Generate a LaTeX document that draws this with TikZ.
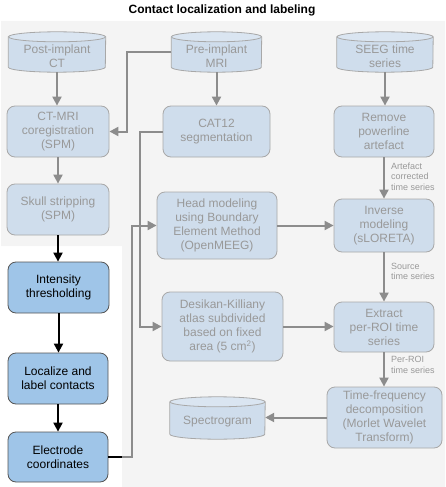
\documentclass[tikz,border=0pt]{standalone}
\usepackage{fontspec}
\setmainfont{Liberation Sans}
\usetikzlibrary{arrows.meta,calc}
\definecolor{bggray}{HTML}{F4F4F4}
\definecolor{lfill}{HTML}{CFDDEC}
\definecolor{ltop}{HTML}{DAE5F1}
\definecolor{lborder}{HTML}{A8A8A8}
\definecolor{ltext}{HTML}{999999}
\definecolor{dfill}{HTML}{9FC5E8}
\definecolor{dborder}{HTML}{555555}
\definecolor{agray}{HTML}{8C8C8C}
\newcommand\drawcyl[2]{%
  \fill[lfill] ([yshift=-5pt]#1.north west) -- ([yshift=5pt]#1.south west)
     arc[start angle=180,end angle=360,x radius=#2pt,y radius=5pt]
     -- ([yshift=-5pt]#1.north east) -- cycle;
  \draw[lborder,line width=0.8pt] ([yshift=-5pt]#1.north west) -- ([yshift=5pt]#1.south west)
     arc[start angle=180,end angle=360,x radius=#2pt,y radius=5pt]
     -- ([yshift=-5pt]#1.north east);
  \filldraw[fill=ltop,draw=lborder,line width=0.8pt] ([yshift=-5pt]#1.north) ellipse[x radius=#2pt,y radius=5pt];
}
\begin{document}
\begin{tikzpicture}[x=1pt,y=-1pt,
  lbox/.style={draw=lborder, fill=lfill, rounded corners=8pt, text=ltext, align=center,
    font=\fontsize{12}{14}\selectfont, inner sep=0pt, line width=0.8pt},
  dbox/.style={draw=dborder, fill=dfill, rounded corners=8pt, text=black, align=center,
    font=\fontsize{12}{14}\selectfont, inner sep=0pt, line width=0.8pt},
  cylbox/.style={draw=none, inner sep=0pt},
  cyltext/.style={text=ltext, align=center, font=\fontsize{12}{14}\selectfont, inner sep=0pt},
  garrow/.style={draw=agray, line width=2pt, -{Triangle[length=9pt,width=9pt]}},
  barrow/.style={draw=black, line width=2pt, -{Triangle[length=9pt,width=9pt]}},
  elabel/.style={font=\fontsize{9}{10.5}\selectfont, text=ltext, align=left, anchor=west, inner sep=0pt}]
\useasboundingbox (0,0) rectangle (445,487);
\fill[bggray] (1,21) -- (445,21) -- (445,487) -- (122,487) -- (122,246) -- (1,246) -- cycle;
\node[font=\bfseries\fontsize{12}{14}\selectfont] (title) at (222,10) {Contact localization and labeling};

% cylinders
\node[cylbox, minimum width=97pt, minimum height=40pt] (ct) at (57,52) {};
\drawcyl{ct}{48.5}
\node[cyltext] (cttext) at ([yshift=-4.5pt]ct.center) {Post-implant\\CT};

\node[cylbox, minimum width=90pt, minimum height=40pt] (mri) at (216.5,52) {};
\drawcyl{mri}{45}
\node[cyltext] (mritext) at ([yshift=-4.5pt]mri.center) {Pre-implant\\MRI};

\node[cylbox, minimum width=96pt, minimum height=40pt] (seeg) at (385,52) {};
\drawcyl{seeg}{48}
\node[cyltext] (seegtext) at ([yshift=-4.5pt]seeg.center) {SEEG time\\series};

\node[cylbox, minimum width=95pt, minimum height=42pt] (spec) at (217.5,418) {};
\drawcyl{spec}{47.5}
\node[cyltext] (spectext) at ([yshift=-3.5pt]spec.center) {Spectrogram};

% boxes
\node[lbox, minimum width=102pt, minimum height=51pt] (ctmri) at (58,131.5) {CT-MRI\\coregistration\\(SPM)};
\node[lbox, minimum width=107pt, minimum height=51pt] (cat) at (216.5,131.5) {CAT12\\segmentation};
\node[lbox, minimum width=100pt, minimum height=51pt] (remove) at (384,131.5) {Remove\\powerline\\artefact};
\node[lbox, minimum width=102pt, minimum height=51pt] (skull) at (58,209.5) {Skull stripping\\(SPM)};
\node[lbox, minimum width=120pt, minimum height=67pt] (head) at (217,225.5) {Head modeling\\using Boundary\\Element Method\\(OpenMEEG)};
\node[lbox, minimum width=100pt, minimum height=53pt] (inverse) at (384,225.5) {Inverse\\modeling\\(sLORETA)};
\node[lbox, minimum width=121pt, minimum height=69pt] (desikan) at (222.5,326.5) {Desikan-Killiany\\atlas subdivided\\based on fixed\\area (5 cm\textsuperscript{2})};
\node[lbox, minimum width=100pt, minimum height=50pt] (extract) at (384,327) {Extract\\per-ROI time\\series};
\node[lbox, minimum width=115pt, minimum height=61pt] (tf) at (384.5,417.5) {Time-frequency\\decomposition\\(Morlet Wavelet\\Transform)};

\node[dbox, minimum width=101pt, minimum height=51pt] (intensity) at (58.5,287.5) {Intensity\\thresholding};
\node[dbox, minimum width=100pt, minimum height=51pt] (localize) at (58,378.5) {Localize and\\label contacts};
\node[dbox, minimum width=100pt, minimum height=50pt] (elec) at (58,457) {Electrode\\coordinates};

% junction coordinates
\coordinate (j1) at (127,0);
\coordinate (j2) at (132,0);
\coordinate (j3) at (140,0);
\coordinate (wedge) at (122,0);

% connectors
\draw[garrow] (ct.south) -- (ct.south |- ctmri.north);
\draw[garrow] (mri.south) -- (mri.south |- cat.north);
\draw[garrow] (seeg.south) -- (seeg.south |- remove.north);
\draw[garrow] (mri.west) -- (mri.west -| j1) |- (ctmri.east);
\draw[garrow] (ctmri) -- (skull);
\draw[barrow] (skull.south) -- (skull.south |- intensity.north);
\draw[barrow] (intensity.south) -- (intensity.south |- localize.north);
\draw[barrow] (localize) -- (elec);
\draw[garrow] (cat.west) -- (cat.west -| j3) |- (desikan.west);
\draw[garrow] (elec.east) -- (elec.east -| j2) |- (head.west);
\draw[black, line width=2pt] (elec.east) -- (elec.east -| wedge);
\draw[garrow] (remove) -- (inverse);
\draw[garrow] (head.east) -- (head.east -| inverse.west);
\draw[garrow] (inverse) -- (extract);
\draw[garrow] (desikan.east) -- (desikan.east -| extract.west);
\draw[garrow] (extract) -- (extract.south |- tf.north);
\draw[garrow] (tf.west) -- (tf.west -| spec.east);

% edge labels
\node[elabel] (l1) at (391,176.5) {Artefact\\corrected\\time series};
\node[elabel] (l2) at (391,271.5) {Source\\time series};
\node[elabel] (l3) at (391,365) {Per-ROI\\time series};
\end{tikzpicture}
\end{document}
